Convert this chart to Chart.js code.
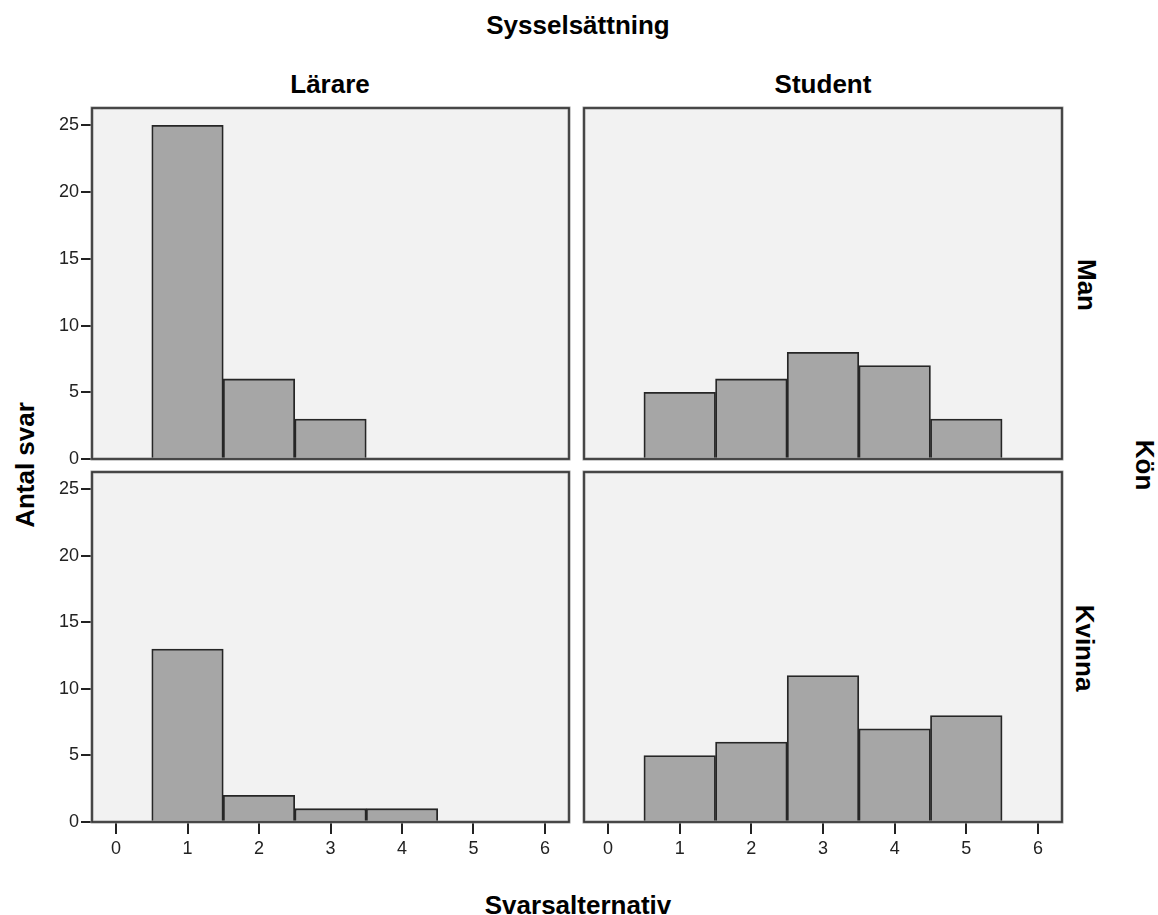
<!DOCTYPE html>
<html>
<head>
<meta charset="utf-8">
<script src="https://cdn.jsdelivr.net/npm/chart.js@4.4.0/dist/chart.umd.min.js"></script>
<style>
  body { margin: 0; width: 1158px; height: 915px; background: #fff; position: relative; overflow: hidden;
         font-family: "Liberation Sans", Arial, sans-serif; }
  canvas { position: absolute; }
  .lbl { position: absolute; font-weight: bold; font-size: 26px; line-height: 1; color: #000; white-space: nowrap; }
</style>
</head>
<body>
<div class="lbl" style="left:578px;top:25px;transform:translate(-50%,-50%)">Sysselsättning</div>
<div class="lbl" style="left:330px;top:84px;transform:translate(-50%,-50%)">Lärare</div>
<div class="lbl" style="left:823px;top:84px;transform:translate(-50%,-50%)">Student</div>
<div class="lbl" style="left:1087px;top:285px;transform:translate(-50%,-50%) rotate(90deg)">Man</div>
<div class="lbl" style="left:1085px;top:648px;transform:translate(-50%,-50%) rotate(90deg)">Kvinna</div>
<div class="lbl" style="left:1145px;top:465px;transform:translate(-50%,-50%) rotate(90deg)">Kön</div>
<div class="lbl" style="left:25px;top:465px;transform:translate(-50%,-50%) rotate(-90deg)">Antal svar</div>
<div class="lbl" style="left:578px;top:905px;transform:translate(-50%,-50%)">Svarsalternativ</div>

<canvas id="tl"></canvas>
<canvas id="tr"></canvas>
<canvas id="bl"></canvas>
<canvas id="br"></canvas>

<script>
// svarsalternativ (bins) and counts per panel
const bins = [1, 2, 3, 4, 5];
const lararMan = [25, 6, 3, null, null];
const studentMan = [5, 6, 8, 7, 3];
const lararKvinna = [13, 2, 1, 1, null];
const studentKvinna = [5, 6, 11, 7, 8];

const xTicks = [0, 1, 2, 3, 4, 5, 6];
const yTicks = [0, 5, 10, 15, 20, 25];

const panelBg = '#f2f2f2';
const barFill = '#a6a6a6';
const barEdge = '#262626';
const tickColor = '#222';

const PAD = 20, YW = 60, XH = 45;

const panelPlugin = {
    id: 'panel',
    beforeDraw(chart) {
        const a = chart.chartArea, c = chart.ctx;
        c.save();
        c.fillStyle = panelBg;
        c.fillRect(a.left, a.top, a.right - a.left, a.bottom - a.top);
        c.restore();
    },
    afterDraw(chart) {
        const a = chart.chartArea, c = chart.ctx;
        c.save();
        c.strokeStyle = '#9a9a9a';
        c.lineWidth = 3;
        c.strokeRect(a.left, a.top, a.right - a.left, a.bottom - a.top);
        c.strokeStyle = '#333';
        c.lineWidth = 1.6;
        c.strokeRect(a.left, a.top, a.right - a.left, a.bottom - a.top);
        c.restore();
    }
};

function makePanel(id, values, area, showY, showX) {
    const el = document.getElementById(id);
    const yw = showY ? YW : 0, xh = showX ? XH : 0;
    const w = area.right - area.left + yw + 2 * PAD;
    const h = area.bottom - area.top + xh + 2 * PAD;
    el.style.left = (area.left - yw - PAD) + 'px';
    el.style.top = (area.top - PAD) + 'px';
    el.width = w; el.height = h;
    el.style.width = w + 'px'; el.style.height = h + 'px';

    new Chart(el, {
        type: 'bar',
        data: {
            datasets: [{
                data: bins.map((b, i) => ({ x: b, y: values[i] })),
                backgroundColor: barFill,
                borderColor: barEdge,
                borderWidth: 1.8,
                barPercentage: 1,
                categoryPercentage: 1
            }]
        },
        options: {
            responsive: false,
            animation: false,
            layout: { padding: PAD },
            plugins: { legend: { display: false }, tooltip: { enabled: false } },
            scales: {
                x: {
                    type: 'linear',
                    offset: false,
                    min: -0.336, max: 6.336,
                    display: showX,
                    afterBuildTicks: s => { s.ticks = xTicks.map(v => ({ value: v })); },
                    afterFit: s => { if (showX) s.height = XH; },
                    grid: { offset: false, drawOnChartArea: false, drawTicks: true, tickLength: 12, color: tickColor, lineWidth: 2 },
                    border: { display: false },
                    ticks: { color: tickColor, padding: 4, maxRotation: 0,
                             font: { family: '"Liberation Sans", Arial, sans-serif', size: 18 } }
                },
                y: {
                    type: 'linear',
                    min: 0, max: 26.3,
                    display: showY,
                    afterBuildTicks: s => { s.ticks = yTicks.map(v => ({ value: v })); },
                    afterFit: s => { if (showY) s.width = YW; },
                    grid: { offset: false, drawOnChartArea: false, drawTicks: true, tickLength: 11, color: tickColor, lineWidth: 2 },
                    border: { display: false },
                    ticks: { color: tickColor, padding: 2,
                             font: { family: '"Liberation Sans", Arial, sans-serif', size: 18 } }
                }
            }
        },
        plugins: [panelPlugin]
    });
}

makePanel('tl', lararMan,      { left: 92,  right: 569,  top: 108, bottom: 459 }, true,  false);
makePanel('tr', studentMan,    { left: 584, right: 1062, top: 108, bottom: 459 }, false, false);
makePanel('bl', lararKvinna,   { left: 92,  right: 569,  top: 472, bottom: 822 }, true,  true);
makePanel('br', studentKvinna, { left: 584, right: 1062, top: 472, bottom: 822 }, false, true);
</script>
</body>
</html>
